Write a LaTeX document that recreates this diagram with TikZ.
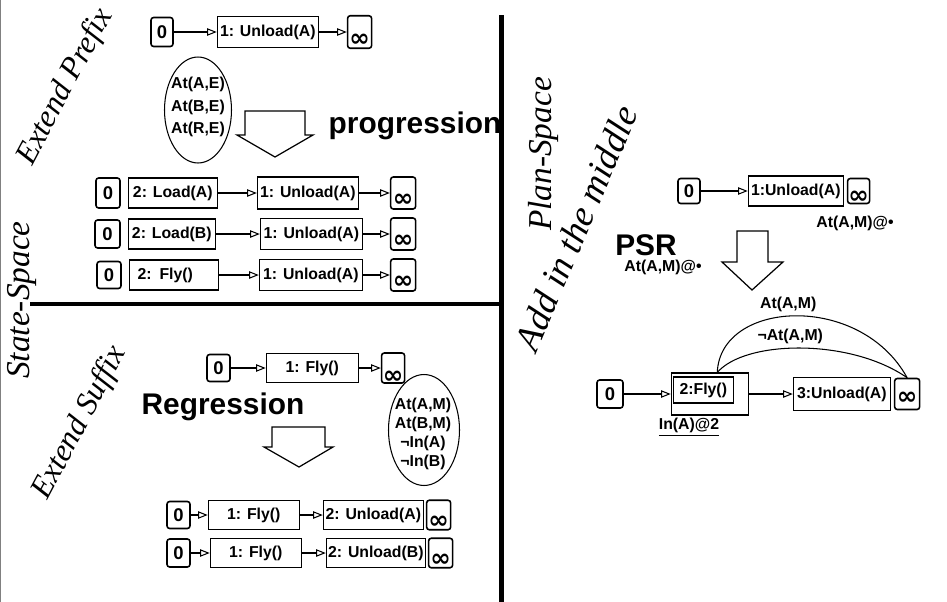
\documentclass[tikz,border=0pt]{standalone}
\usepackage{fontspec}
\setmainfont{Liberation Serif}
\setsansfont{Liberation Sans}
\newfontfamily\symfont{DejaVu Sans}
\usepackage{tikz}
\usetikzlibrary{shapes.geometric, arrows.meta, positioning}
\tikzstyle{zero} = [rectangle, rounded corners=1.5pt, draw=black, line width=0.9pt, minimum width=0.46cm, minimum height=0.56cm, inner sep=0pt, font=\sffamily\bfseries\fontsize{10.5}{12}\selectfont]
\tikzstyle{act} = [rectangle, draw=black, line width=0.6pt, minimum height=0.6cm, inner sep=1pt, font=\sffamily\bfseries\fontsize{9}{10}\selectfont]
\tikzstyle{cond} = [ellipse, draw=black, line width=0.6pt, inner sep=0pt]
\tikzstyle{condtext} = [align=center, inner sep=0pt, font=\sffamily\bfseries\fontsize{9}{13}\selectfont]
\tikzstyle{note} = [inner sep=0pt, font=\sffamily\bfseries\fontsize{9}{10}\selectfont]
\tikzstyle{big} = [inner sep=0pt, font=\sffamily\bfseries\fontsize{17}{18}\selectfont]
\tikzstyle{side} = [inner sep=0pt, font=\itshape\fontsize{19}{20}\selectfont]
\tikzstyle{arrow} = [line width=0.6pt, -{Triangle[open, length=5.5pt, width=4.2pt]}]
\tikzstyle{bigarrow} = [draw=black, line width=0.7pt, fill=white, line join=miter]
\tikzstyle{divider} = [line width=0.1cm]
\tikzset{inf/.style 2 args={rectangle, rounded corners=1.5pt, draw=black, line width=0.9pt, minimum width=0.48cm, minimum height=0pt, inner sep=0pt, text height=#1, text depth=#2, font=\symfont\bfseries\fontsize{14}{14}\selectfont}}
\newcommand{\infsym}{∞}

\begin{document}
\begin{tikzpicture}[x=0.02cm, y=-0.02cm]
  \useasboundingbox (0,0) rectangle (947,602);
  \draw [gray, line width=0.03cm] (0.7,0) -- (0.7,602);
  \draw [divider] (501,15) -- (501,602);
  \draw [divider, line width=0.08cm] (30,304) -- (501,304);

  \node (prefix) [side, rotate=62, font=\itshape\fontsize{18}{20}\selectfont] at (65.5,87) {Extend Prefix};
  \node (statesp) [side, rotate=90] at (22,300) {State-Space};
  \node (suffix) [side, rotate=62, font=\itshape\fontsize{18}{20}\selectfont] at (80,423) {Extend Suffix};
  \node (plansp) [side, rotate=90] at (543,154) {Plan-Space};
  \node (middle) [side, rotate=67, font=\itshape\fontsize{21}{22}\selectfont] at (576,228) {Add in the middle};

  \node (pzero) [zero, minimum width=0.44cm, minimum height=0.58cm] at (162,32) {0};
  \node (punload) [act, minimum width=2.02cm, minimum height=0.62cm, right=0.86cm of pzero] {1: Unload(A)};
  \node (pinf) [inf={0.62cm}{0.03cm}, right=0.56cm of punload] {\infsym};
  \node (pcond) [cond, minimum width=1.34cm, minimum height=2.12cm] at (198,110) {};
  \node (pcondtext) [condtext] at (198,107) {At(A,E)\\At(B,E)\\At(R,E)};
  \draw [bigarrow] (245,111) -- (305,111) -- (305,135) -- (313,135) -- (275,157) -- (237,135) -- (245,135) -- cycle;
  \node (progr) [big] at (415,126) {progression};

  \node (sazero) [zero, minimum width=0.48cm, minimum height=0.6cm] at (108,193) {0};
  \node (saload) [act, minimum width=1.78cm, right=0.14cm of sazero] {2: Load(A)};
  \node (saunload) [act, minimum width=2.02cm, minimum height=0.64cm, right=0.78cm of saload] {1: Unload(A)};
  \node (sainf) [inf={0.58cm}{0.06cm}, minimum width=0.5cm, right=0.62cm of saunload] {\infsym};

  \node (sbzero) [zero, minimum width=0.5cm, minimum height=0.56cm] at (107.5,234) {0};
  \node (sbload) [act, minimum width=1.74cm, right=0.14cm of sbzero] {2: Load(B)};
  \node (sbunload) [act, minimum width=2.04cm, minimum height=0.62cm, right=0.88cm of sbload] {1: Unload(A)};
  \node (sbinf) [inf={0.58cm}{0.06cm}, minimum width=0.5cm, right=0.54cm of sbunload] {\infsym};

  \node (sczero) [zero, minimum width=0.48cm, minimum height=0.54cm] at (109,275) {0};
  \node (scfly) [act, minimum width=1.78cm, text width=1.45cm, align=left, right=0.14cm of sczero] {2: Fly()};
  \node (scunload) [act, minimum width=2.06cm, minimum height=0.62cm, right=0.8cm of scfly] {1: Unload(A)};
  \node (scinf) [inf={0.58cm}{0.06cm}, minimum width=0.5cm, right=0.54cm of scunload] {\infsym};

  \node (rzero) [zero, minimum width=0.46cm, minimum height=0.54cm] at (218.5,368) {0};
  \node (rfly) [act, minimum width=1.84cm, minimum height=0.58cm, right=0.7cm of rzero] {1: Fly()};
  \node (rinf) [inf={0.6cm}{0cm}, minimum width=0.46cm, right=0.44cm of rfly] {\infsym};
  \node (regr) [big] at (223,407) {Regression};
  \draw [bigarrow] (272,427) -- (325,427) -- (325,447) -- (333,447) -- (299,467) -- (264,447) -- (272,447) -- cycle;
  \node (rcond) [cond, minimum width=1.42cm, minimum height=2.22cm] at (424,430) {};
  \node (rcondtext) [condtext, font=\sffamily\bfseries\fontsize{9}{10.8}\selectfont] at (423,434) {At(A,M)\\At(B,M)\\¬In(A)\\¬In(B)};

  \node (razero) [zero, minimum width=0.46cm, minimum height=0.54cm] at (178.5,515) {0};
  \node (rafly) [act, minimum width=1.82cm, minimum height=0.58cm, right=0.34cm of razero] {1: Fly()};
  \node (raunload) [act, minimum width=2cm, minimum height=0.58cm, right=0.46cm of rafly] {2: Unload(A)};
  \node (rainf) [inf={0.56cm}{0.03cm}, right=0.04cm of raunload] {\infsym};

  \node (rbzero) [zero, minimum width=0.46cm, minimum height=0.56cm] at (178.5,553) {0};
  \node (rbfly) [act, minimum width=1.82cm, minimum height=0.58cm, right=0.38cm of rbzero] {1: Fly()};
  \node (rbunload) [act, minimum width=1.94cm, minimum height=0.58cm, right=0.48cm of rbfly] {2: Unload(B)};
  \node (rbinf) [inf={0.56cm}{0.03cm}, right=0.04cm of rbunload] {\infsym};

  \node (qazero) [zero, minimum width=0.44cm, minimum height=0.5cm] at (689,191) {0};
  \node (qaunload) [act, minimum width=1.9cm, right=0.94cm of qazero] {1:Unload(A)};
  \node (qainf) [inf={0.5cm}{0cm}, minimum width=0.44cm, right=0.06cm of qaunload] {\infsym};
  \node (qanote) [note] at (855,223) {At(A,M)@•};
  \node (psr) [big] at (646,245) {PSR};
  \node (psrnote) [note] at (663,267) {At(A,M)@•};
  \draw [bigarrow] (737,231) -- (768,231) -- (768,262) -- (783,262) -- (752,290) -- (722,262) -- (737,262) -- cycle;

  \node (qbzero) [zero, minimum width=0.52cm, minimum height=0.56cm] at (610,394) {0};
  \node (qbfly) [act, minimum width=1.54cm, minimum height=0.84cm, right=0.94cm of qbzero] {};
  \node (qbflyin) [act, minimum width=1.2cm, minimum height=0.52cm, anchor=north west] at ([shift={(0.04cm,-0.08cm)}]qbfly.north west) {2:Fly()};
  \node (qbunload) [act, minimum width=1.94cm, minimum height=0.66cm, right=0.88cm of qbfly] {3:Unload(A)};
  \node (qbinf) [inf={0.52cm}{0.1cm}, minimum width=0.5cm, right=0.06cm of qbunload] {\infsym};
  \node (inanote) [note] at (689,427) {\underline{In(A)@2}};

  \draw [arrow] (pzero) -- (punload);
  \draw [arrow] (punload) -- (pinf);
  \draw [arrow] (saload) -- (saunload);
  \draw [arrow] (saunload) -- (sainf);
  \draw [arrow] (sbload) -- (sbunload);
  \draw [arrow] (sbunload) -- (sbinf);
  \draw [arrow] (scfly) -- (scunload);
  \draw [arrow] (scunload) -- (scinf);
  \draw [arrow] (rzero) -- (rfly);
  \draw [arrow] (rfly) -- (rinf);
  \draw [arrow] (razero) -- (rafly);
  \draw [arrow] (rafly) -- (raunload);
  \draw [arrow] (rbzero) -- (rbfly);
  \draw [arrow] (rbfly) -- (rbunload);
  \draw [arrow] (qazero) -- (qaunload);
  \draw [arrow] (qbzero) -- (qbfly);
  \draw [arrow] (qbfly) -- (qbunload);
  \draw [line width=0.6pt] ([xshift=0.15cm]qbfly.north) .. controls (720,300) and (860,292) .. (qbinf.north) node [note, pos=0.47, above=2pt] (support) {At(A,M)};
  \draw [line width=0.6pt] ([xshift=0.15cm]qbfly.north) .. controls (745,340) and (850,338) .. (qbinf.north) node [note, pos=0.45, above=2pt] (threat) {¬At(A,M)};

\end{tikzpicture}
\end{document}
